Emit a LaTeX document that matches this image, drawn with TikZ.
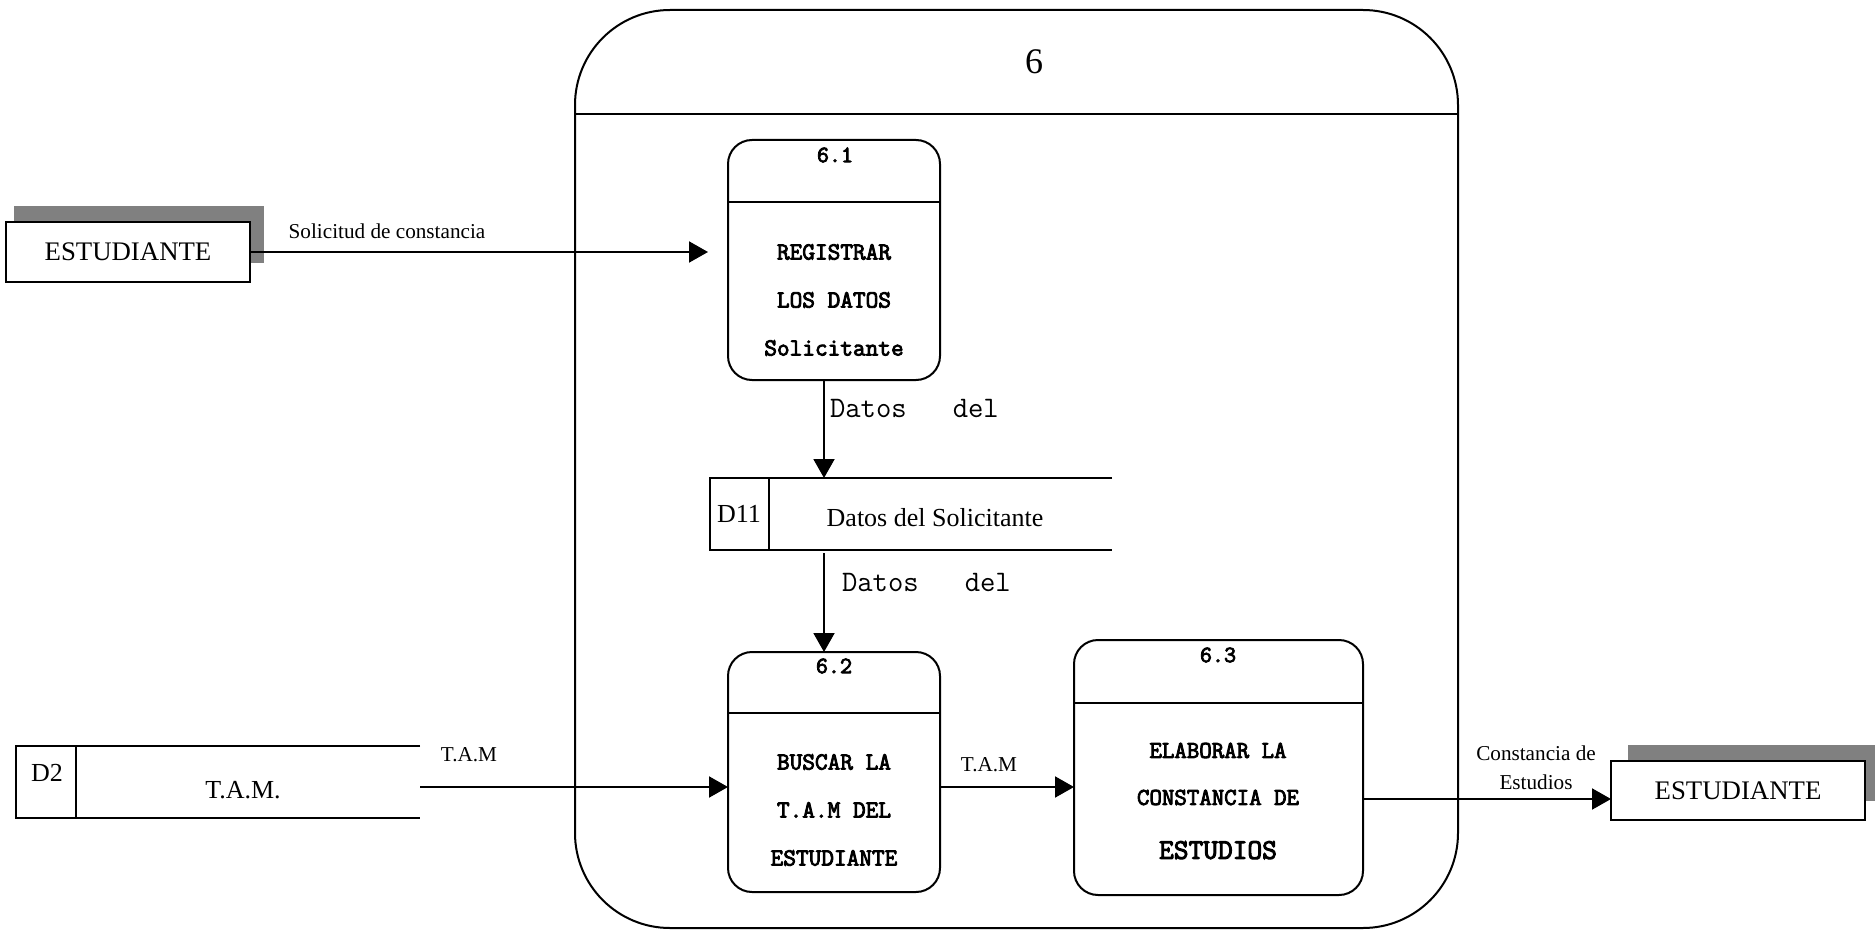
\documentclass[tikz,border=0pt]{standalone}
\usepackage{fontspec}
\setmainfont{Liberation Serif}
\usetikzlibrary{arrows.meta}
\newfontfamily\heavymono[FakeBold=3.5]{Latin Modern Mono}
\begin{document}
\begin{tikzpicture}[x=0.5pt,y=-0.5pt,
  every node/.style={inner sep=0pt, outer sep=0pt},
  ln/.style={line width=1pt},
  flow/.style={ln, -{Triangle[length=9.5pt,width=10.5pt]}},
  proc/.style={draw, ln, rounded corners=12pt},
  ent/.style={draw, ln, fill=white, font=\fontsize{13.4}{16}\selectfont},
  shadowbox/.style={fill=gray, draw=none},
  store/.style={minimum height=36pt},
  num/.style={font=\heavymono\fontsize{11.7}{12}\selectfont},
  ptext/.style={align=center, font=\heavymono\fontsize{12.3}{24}\selectfont},
  lbl/.style={font=\fontsize{10.6}{14.5}\selectfont, align=center},
  stxt/.style={font=\fontsize{13}{15}\selectfont},
  mlbl/.style={font=\ttfamily\fontsize{14.9}{15}\selectfont, anchor=west}
]
\useasboundingbox (0,0) rectangle (1875,931);

% outer process 6
\node[draw, ln, rounded corners=47.5pt, minimum width=441.5pt, minimum height=459pt] (p6) at (1016.5,469) {};
\draw[ln] ([yshift=-52pt]p6.north west) -- ([yshift=-52pt]p6.north east);
\node[font=\fontsize{18}{20}\selectfont] (p6n) at (1034,62) {6};

% external entities
\node[shadowbox, minimum width=125pt, minimum height=28.5pt] (e1s) at (139,234.5) {};
\node[ent, minimum width=122pt, minimum height=30pt] (e1) at (128,252) {ESTUDIANTE};
\node[shadowbox, minimum width=123.5pt, minimum height=28pt] (e2s) at (1751.5,773) {};
\node[ent, minimum width=127pt, minimum height=29.5pt] (e2) at (1738,790.5) {ESTUDIANTE};

% process 6.1
\node[proc, minimum width=106pt, minimum height=120pt] (p61) at (834,260) {};
\draw[ln] ([yshift=-31pt]p61.north west) -- ([yshift=-31pt]p61.north east);
\node[num] (p61n) at (835,155) {6.1};
\node[ptext] (p61t) at (834,300) {REGISTRAR\\LOS DATOS\\Solicitante};

% process 6.2
\node[proc, minimum width=106pt, minimum height=120pt] (p62) at (834,772) {};
\draw[ln] ([yshift=-30.5pt]p62.north west) -- ([yshift=-30.5pt]p62.north east);
\node[num] (p62n) at (834,666) {6.2};
\node[ptext] (p62t) at (834,810) {BUSCAR LA\\T.A.M DEL\\ESTUDIANTE};

% process 6.3
\node[proc, minimum width=144.5pt, minimum height=127.5pt] (p63) at (1218.5,767.5) {};
\draw[ln] ([yshift=-31.5pt]p63.north west) -- ([yshift=-31.5pt]p63.north east);
\node[num] (p63n) at (1218,655) {6.3};
\node[ptext, font=\heavymono\fontsize{12.1}{23.5}\selectfont] (p63t) at (1218,801) {ELABORAR LA\\CONSTANCIA DE\\[3.5pt]{\fontsize{14.3}{15}\selectfont ESTUDIOS}};

% data store D11
\node[store, minimum width=201pt] (d11) at (911,514) {};
\draw[ln] (d11.north east) -- (d11.north west) -- (d11.south west) -- (d11.south east);
\draw[ln] ([xshift=29.5pt]d11.north west) -- ([xshift=29.5pt]d11.south west);
\node[stxt] (d11id) at (739,514) {D11};
\node[stxt] (d11t) at (935,518) {Datos del Solicitante};

% data store D2
\node[store, minimum width=202pt] (d2) at (218,782) {};
\draw[ln] (d2.north east) -- (d2.north west) -- (d2.south west) -- (d2.south east);
\draw[ln] ([xshift=30pt]d2.north west) -- ([xshift=30pt]d2.south west);
\node[stxt] (d2id) at (47,773) {D2};
\node[stxt] (d2t) at (243,790) {T.A.M.};

% flow levels
\coordinate (lv1) at (0,787);
\coordinate (lv2) at (0,799);

% flows
\draw[flow, shorten >=10pt] (e1.east) -- (e1.east -| p61.west);
\draw[flow] ([xshift=-5pt]p61.south) -- ([xshift=-5pt]p61.south |- d11.north);
\draw[flow, shorten <=1.5pt] ([xshift=-5pt]p62.north |- d11.south) -- ([xshift=-5pt]p62.north);
\draw[flow] (d2.east |- lv1) -- (p62.west |- lv1);
\draw[flow] (p62.east |- lv1) -- (p63.west |- lv1);
\draw[flow] (p63.east |- lv2) -- (e2.west |- lv2);

% flow labels
\node[lbl] (l1) at (387,231) {Solicitud de constancia};
\node[lbl] (l2) at (469,755) {T.A.M};
\node[lbl] (l3) at (989,765) {T.A.M};
\node[lbl] (l4) at (1536,768) {Constancia de\\Estudios};
\node[mlbl] (l5) at (830,408) {Datos~~~del};
\node[mlbl] (l6) at (842,582) {Datos~~~del};
\end{tikzpicture}
\end{document}
